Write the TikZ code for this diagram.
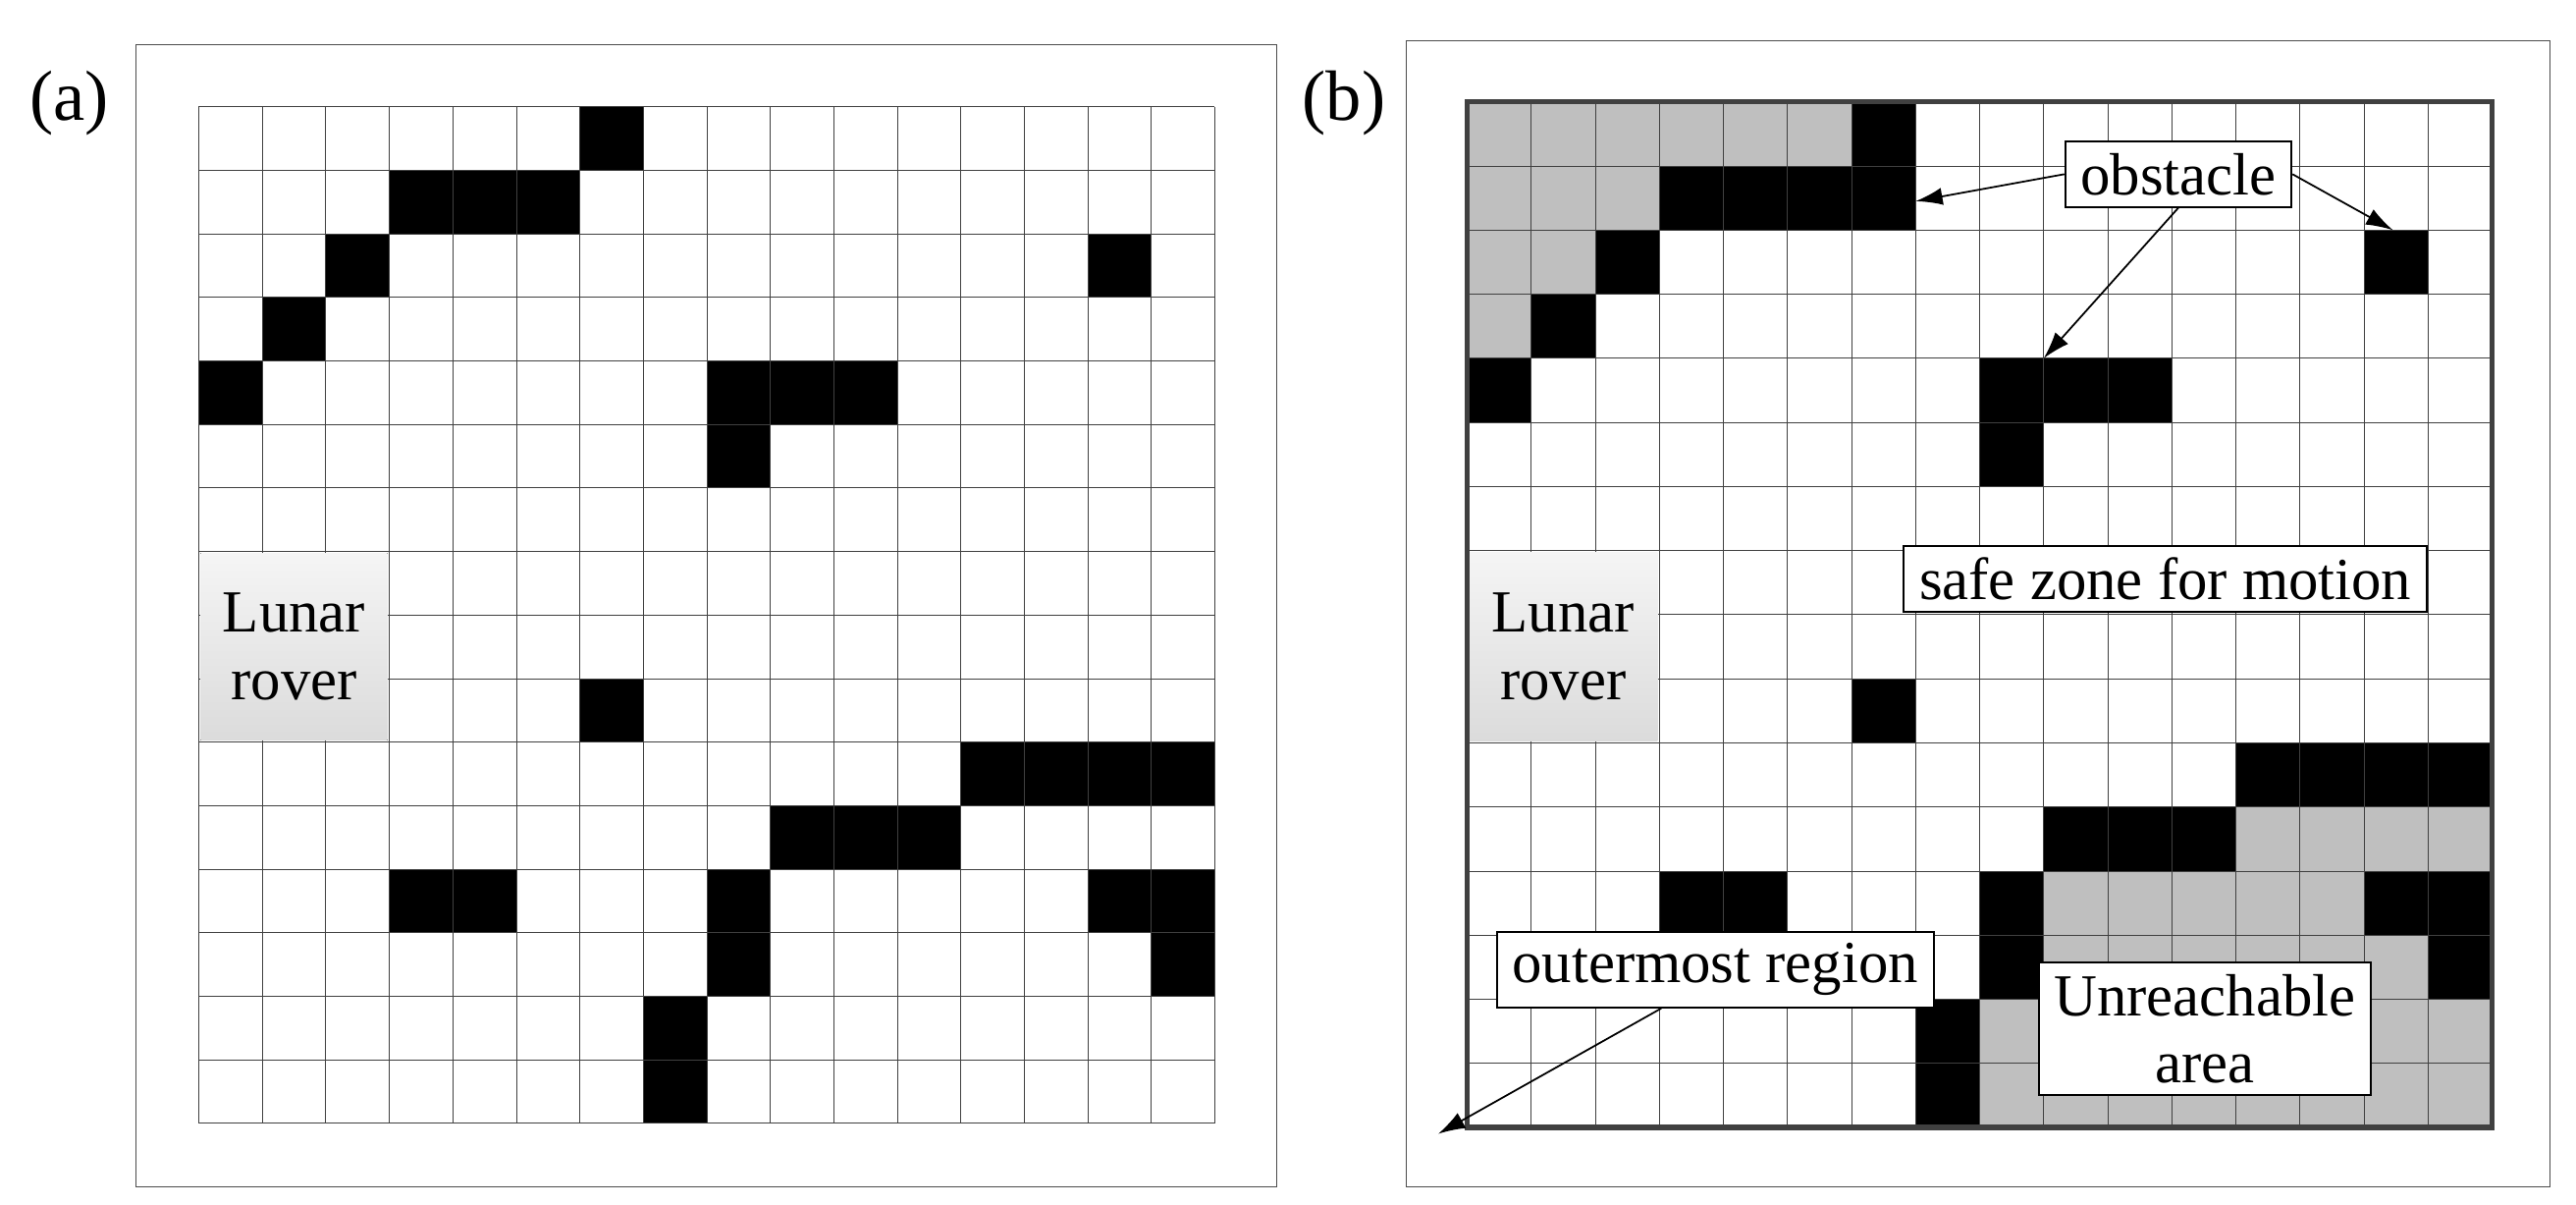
\documentclass[tikz,border=0pt]{standalone}
\usepackage{fontspec}
\setmainfont{Liberation Serif}
\usetikzlibrary{arrows.meta}
\begin{document}
\begin{tikzpicture}[x=0.03cm,y=-0.03cm,
  frame/.style={draw=black!70,line width=0.6pt},
  gridl/.style={draw=black!75,line width=0.4pt},
  lbl/.style={draw=black,fill=white,line width=1pt,inner xsep=8pt,inner ysep=6pt,font=\fontsize{31}{35}\selectfont},
  arr/.style={-{Latex[length=14pt,width=9pt]},line width=0.9pt},
  rover/.style={top color=gray!8,bottom color=gray!28,draw=none},
  rtext/.style={align=center,font=\fontsize{31}{35}\selectfont,inner sep=0pt}]
\useasboundingbox (0,0) rectangle (1568,733.2);
\draw[frame] (83,27) rectangle (777,722);
\draw[frame] (856,25) rectangle (1552,722);
\node[font=\fontsize{37}{40}\selectfont] (la) at (42,63) {(a)};
\node[font=\fontsize{37}{40}\selectfont] (lb) at (818,63) {(b)};
% (a)
\begin{scope}[shift={(121,65)},scale=38.65]
\foreach \c/\r in {6/0,3/1,4/1,5/1,2/2,14/2,1/3,0/4,8/4,9/4,10/4,8/5,6/9,12/10,13/10,14/10,15/10,9/11,10/11,11/11,3/12,4/12,8/12,14/12,15/12,8/13,15/13,7/14,7/15}
  \fill (\c,\r) rectangle ++(1,1);
\foreach \i in {0,...,16} {\draw[gridl] (\i,0) -- (\i,16); \draw[gridl] (0,\i) -- (16,\i);}
\fill[rover] (0.03,7.03) rectangle (2.97,9.97);
\node[rtext] (ra) at (1.5,8.5) {Lunar\\rover};
\end{scope}
% (b)
\begin{scope}[shift={(893,62)},scale=39]
\foreach \c/\r in {0/0,1/0,2/0,3/0,4/0,5/0,0/1,1/1,2/1,0/2,1/2,0/3,12/11,13/11,14/11,15/11,9/12,10/12,11/12,12/12,13/12,9/13,10/13,11/13,12/13,13/13,14/13,8/14,9/14,10/14,11/14,12/14,13/14,14/14,15/14,8/15,9/15,10/15,11/15,12/15,13/15,14/15,15/15}
  \fill[gray!50] (\c,\r) rectangle ++(1,1);
\foreach \c/\r in {6/0,3/1,4/1,5/1,6/1,2/2,14/2,1/3,0/4,8/4,9/4,10/4,8/5,6/9,12/10,13/10,14/10,15/10,9/11,10/11,11/11,3/12,4/12,8/12,14/12,15/12,8/13,15/13,7/14,7/15}
  \fill (\c,\r) rectangle ++(1,1);
\foreach \i in {0,...,16} {\draw[gridl] (\i,0) -- (\i,16); \draw[gridl] (0,\i) -- (16,\i);}
\fill[rover] (0.03,7.03) rectangle (2.97,9.97);
\node[rtext] (rb) at (1.5,8.5) {Lunar\\rover};
\draw[black!75,line width=2.8pt] (0,0) rectangle (16,16);
\coordinate (o1) at (7,1.55);
\coordinate (o2) at (14.45,2);
\coordinate (o3) at (9,4);
\coordinate (out) at (-0.45,16.1);
\end{scope}
\node[lbl] (obs) at (1326,106) {obstacle};
\node[lbl] (safe) at (1318,352) {safe zone for motion};
\node[lbl,align=center] (unr) at (1342,626) {Unreachable\\area};
\node[lbl] (outer) at (1044,590) {outermost region};
\draw[arr] (obs.west) -- (o1);
\draw[arr] (obs.east) -- (o2);
\draw[arr] (obs.south) -- (o3);
\draw[arr] ([xshift=-28pt]outer.south) -- (out);
\end{tikzpicture}
\end{document}
